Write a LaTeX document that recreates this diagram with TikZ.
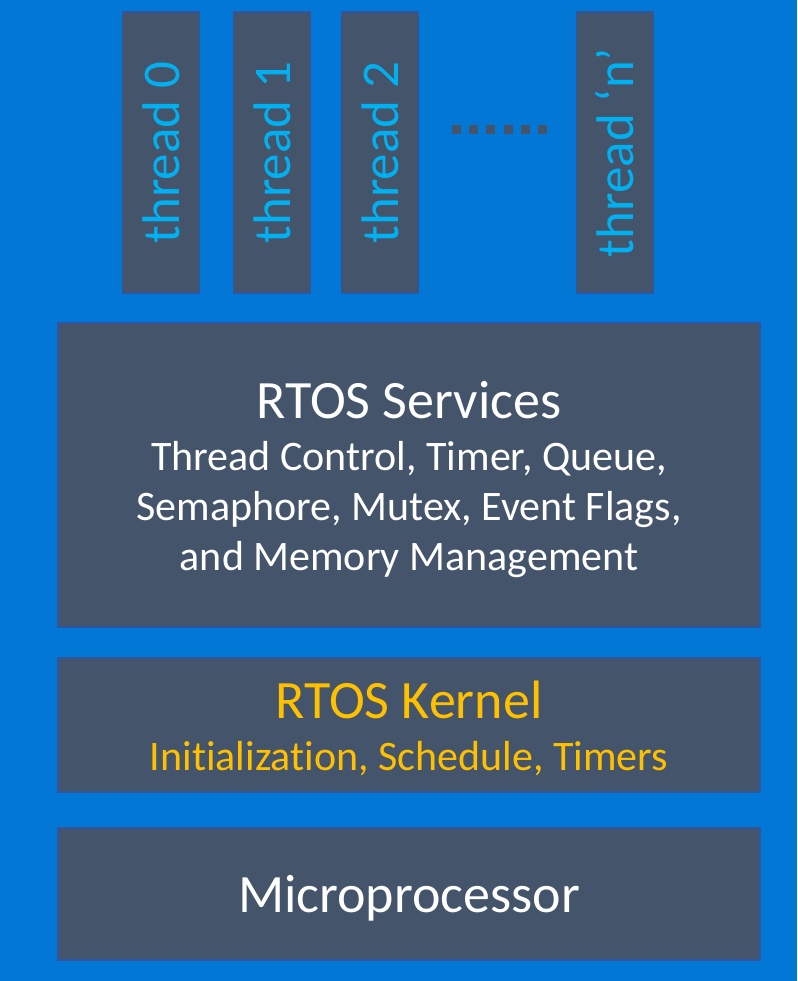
\documentclass[tikz,border=0pt]{standalone}
\usepackage{fontspec}
\setmainfont{Carlito}[RawFeature={-liga,-dlig,-clig}]
\definecolor{bgblue}{HTML}{0277D5}
\definecolor{boxfill}{HTML}{44546A}
\definecolor{boxline}{HTML}{2F55A0}
\definecolor{thrtext}{HTML}{00B0F0}
\definecolor{kertext}{HTML}{FFC000}
\begin{document}
\begin{tikzpicture}[x=1pt,y=-1pt,
  layerbox/.style={draw=boxline,line width=1.5pt,fill=boxfill},
  threadbox/.style={draw=boxline,line width=1.5pt,fill=boxfill,minimum width=77pt,minimum height=281pt,inner sep=0pt},
  threadtext/.style={text=thrtext,font=\fontsize{53}{60}\selectfont,rotate=90},
  bigtext/.style={text=white,font=\fontsize{54}{60}\selectfont,anchor=base},
  smalltext/.style={text=white,font=\fontsize{42}{50}\selectfont,anchor=base}]
\fill[bgblue] (0,0) rectangle (797,981);
\useasboundingbox (0,0) rectangle (797,981);
% thread boxes
\node[threadbox] (t0) at (161,152.5) {};
\node[threadbox] (t1) at (272,152.5) {};
\node[threadbox] (t2) at (380,152.5) {};
\node[threadbox] (tn) at (615,152.5) {};
\node[threadtext] (l0) at (t0.center) {thread 0};
\node[threadtext] (l1) at (t1.center) {thread 1};
\node[threadtext] (l2) at (t2.center) {thread 2};
\node[threadtext] (ln) at (tn.center) {thread ‘n’};
% dots
\coordinate (d1) at (452,130);
\coordinate (d2) at (548,130);
\draw[boxfill,line width=9pt,dash pattern=on 9pt off 8.2pt] (d1) -- (d2);
% layer boxes
\node[layerbox,minimum width=702pt,minimum height=304pt,inner sep=0pt] (svc) at (409,475) {};
\node[layerbox,minimum width=702pt,minimum height=134pt,inner sep=0pt] (ker) at (409,725) {};
\node[layerbox,minimum width=702pt,minimum height=132pt,inner sep=0pt] (mcu) at (409,894) {};
% texts
\node[bigtext] (svct) at (409,418) {RTOS Services};
\node[smalltext] (svc1) at (409,470) {Thread Control, Timer, Queue,};
\node[smalltext] (svc2) at (409,520) {Semaphore, Mutex, Event Flags,};
\node[smalltext] (svc3) at (409,570) {and Memory Management};
\node[bigtext,text=kertext] (kert) at (409,718) {RTOS Kernel};
\node[smalltext,text=kertext] (ker1) at (409,770) {Initialization, Schedule, Timers};
\node[bigtext] (mcut) at (409,912) {Microprocessor};
\end{tikzpicture}
\end{document}
